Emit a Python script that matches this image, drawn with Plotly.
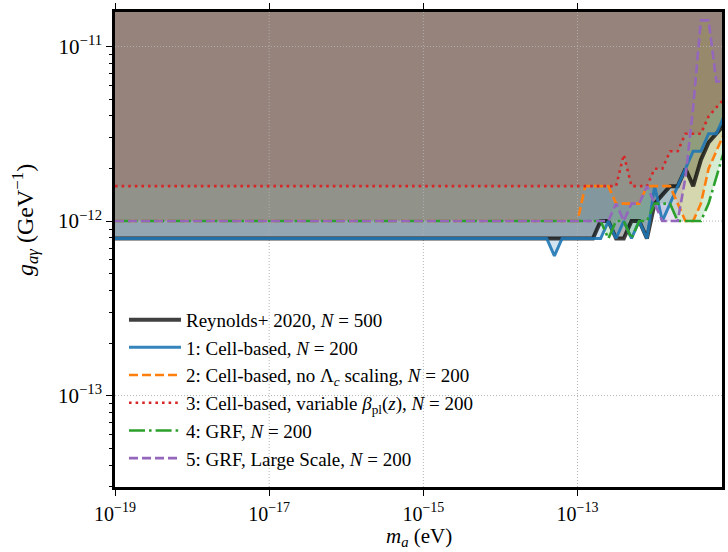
import plotly.graph_objects as go

# ---------------- data (log10 values) ----------------
# axion mass grid, log10(m_a / eV)
log_mass = [-19.0, -13.5, -13.4, -13.3, -13.2, -13.1, -13.0, -12.9, -12.8, -12.7, -12.6,
            -12.5, -12.4, -12.3, -12.2, -12.1, -12.0, -11.9, -11.8, -11.7, -11.6,
            -11.5, -11.4, -11.3, -11.2, -11.1]

# coupling bounds, log10(g_ag / GeV^-1)
reynolds = [-12.1, -12.1, -12.1, -12.1, -12.1, -12.1, -12.1, -12.1, -12.1, -12.0, -12.0,
            -12.1, -12.1, -12.0, -12.0, -12.1, -11.9, -11.85, -11.8, -11.8, -11.7,
            -11.8, -11.65, -11.55, -11.5, -11.45]
cell_based = [-12.1, -12.1, -12.1, -12.2, -12.1, -12.1, -12.1, -12.1, -12.1, -12.1, -12.0,
              -12.1, -12.0, -12.1, -12.0, -12.1, -11.8, -12.0, -11.9, -11.8, -11.7,
              -11.6, -11.6, -11.5, -11.5, -11.4]
cell_no_scaling = [-12.0, -12.0, -12.0, -12.0, -12.0, -12.0, -12.0, -11.8, -11.8, -11.8, -11.8,
                   -11.9, -11.9, -11.9, -11.9, -11.8, -11.8, -11.8, -11.8, -11.9, -12.0,
                   -12.0, -11.9, -11.7, -11.6, -11.5]
cell_variable_beta = [-11.8, -11.8, -11.8, -11.8, -11.8, -11.8, -11.8, -11.8, -11.8, -11.8, -11.8,
                      -11.8, -11.62, -11.8, -11.8, -11.8, -11.7, -11.7, -11.6, -11.6, -11.5,
                      -11.5, -11.5, -11.4, -11.35, -11.3]
grf = [-12.0, -12.0, -12.0, -12.0, -12.0, -12.0, -12.0, -12.0, -12.0, -12.0, -12.1,
       -12.0, -12.0, -12.1, -12.0, -12.0, -11.9, -11.9, -11.9, -12.0, -12.0,
       -12.0, -12.0, -11.9, -11.75, -11.6]
grf_large = [-12.0, -12.0, -12.0, -12.0, -12.0, -12.0, -12.0, -12.0, -12.0, -12.0, -12.0,
             -11.9, -12.0, -11.9, -11.9, -11.8, -11.9, -12.0, -12.0, -12.0, -11.75,
             -11.35, -10.85, -10.85, -11.2, -11.2]

labels = [
    "Reynolds+ 2020, <i>N</i> = 500",
    "1: Cell-based, <i>N</i> = 200",
    "2: Cell-based, no Λ<sub><i>c</i></sub> scaling, <i>N</i> = 200",
    "3: Cell-based, variable <i>β</i><sub>pl</sub>(<i>z</i>), <i>N</i> = 200",
    "4: GRF, <i>N</i> = 200",
    "5: GRF, Large Scale, <i>N</i> = 200",
]
series = [reynolds, cell_based, cell_no_scaling, cell_variable_beta, grf, grf_large]

x_tick_decades = [-19, -17, -15, -13]
y_tick_decades = [-13, -12, -11]

# ---------------- styles ----------------
rgb = [(0, 0, 0), (31, 119, 180), (255, 127, 14), (214, 39, 40), (44, 160, 44), (148, 103, 189)]
line_alpha = [0.75, 0.9, 1, 1, 1, 1]
fill_alpha = [0.3, 0.2, 0.2, 0.2, 0.2, 0.2]
widths = [4, 3, 2.6, 2.6, 2.6, 2.6]
dashes = ["solid", "solid", "9px,4px", "2.6px,4px", "16px,4px,2.6px,4px", "9px,4px"]

X_RANGE = [-19.0, -11.126]
Y_RANGE = [-13.524, -10.802]
G_TOP = 10 ** (Y_RANGE[1] + 1)

SERIF = "Liberation Serif"


def power_label(d):
    return "10<sup>−%d</sup>" % abs(d)


mass = [10 ** v for v in log_mass]
fig = go.Figure()

# filled exclusion regions (from each curve up to the top)
for g, c, fa in zip(series, rgb, fill_alpha):
    gv = [10 ** v for v in g]
    fig.add_trace(go.Scatter(
        x=mass + [mass[-1], mass[0]], y=gv + [G_TOP, G_TOP],
        mode="lines", fill="toself", line=dict(width=0),
        fillcolor=f"rgba({c[0]},{c[1]},{c[2]},{fa})",
        hoverinfo="skip", showlegend=False))

# grid lines above the fills, below the curves
grid_style = dict(color="rgba(176,176,176,0.95)", width=1, dash="1px,2px")
for d in x_tick_decades[1:]:
    fig.add_trace(go.Scatter(x=[10 ** d, 10 ** d], y=[10 ** Y_RANGE[0], 10 ** Y_RANGE[1]],
                             mode="lines", line=grid_style, hoverinfo="skip", showlegend=False))
for d in y_tick_decades:
    fig.add_trace(go.Scatter(x=[10 ** X_RANGE[0], 10 ** X_RANGE[1]], y=[10 ** d, 10 ** d],
                             mode="lines", line=grid_style, hoverinfo="skip", showlegend=False))

# curves
for g, c, la, w, dsh, name in zip(series, rgb, line_alpha, widths, dashes, labels):
    fig.add_trace(go.Scatter(
        x=mass, y=[10 ** v for v in g], mode="lines", name=name,
        line=dict(color=f"rgba({c[0]},{c[1]},{c[2]},{la})", width=w, dash=dsh)))

minor_vals = [k * 10 ** e for e in range(-14, -10) for k in range(2, 10)]

fig.update_layout(
    width=728, height=552,
    margin=dict(l=115, r=3, t=12, b=65),
    plot_bgcolor="white", paper_bgcolor="white",
    font=dict(family=SERIF, color="black"),
    legend=dict(x=0.0148, y=0.392, xanchor="left", yanchor="top",
                bgcolor="rgba(0,0,0,0)", borderwidth=0,
                font=dict(family=SERIF, size=19), itemwidth=52),
    xaxis=dict(type="log", range=X_RANGE,
               tickvals=[10 ** d for d in x_tick_decades],
               ticktext=[power_label(d) for d in x_tick_decades],
               ticks="outside", ticklen=6, tickwidth=1.2, tickcolor="black",
               ticklabelstandoff=1,
               showline=True, linewidth=2.5, linecolor="black", mirror="ticks",
               showgrid=False, zeroline=False,
               tickfont=dict(family=SERIF, size=20)),
    yaxis=dict(type="log", range=Y_RANGE,
               tickvals=[10 ** d for d in y_tick_decades],
               ticktext=[power_label(d) for d in y_tick_decades],
               ticks="outside", ticklen=6, tickwidth=1.2, tickcolor="black",
               showline=True, linewidth=2.5, linecolor="black", mirror=True,
               showgrid=False, zeroline=False,
               minor=dict(tickvals=minor_vals, ticks="outside", ticklen=3.5,
                          tickwidth=1, tickcolor="black", showgrid=False),
               tickfont=dict(family=SERIF, size=21)),
    annotations=[
        dict(text="<i>m</i><sub><i>a</i></sub> (eV)", xref="paper", yref="paper",
             x=0.5, y=0, xanchor="center", yanchor="middle", yshift=-50,
             showarrow=False, font=dict(family=SERIF, size=21)),
        dict(text="<i>g</i><sub><i>aγ</i></sub> (GeV<sup>−1</sup>)", xref="paper", yref="paper",
             x=0, y=0.562, xanchor="center", yanchor="middle", xshift=-90, textangle=-90,
             showarrow=False, font=dict(family=SERIF, size=24)),
    ],
)

fig.write_html("out.html")
